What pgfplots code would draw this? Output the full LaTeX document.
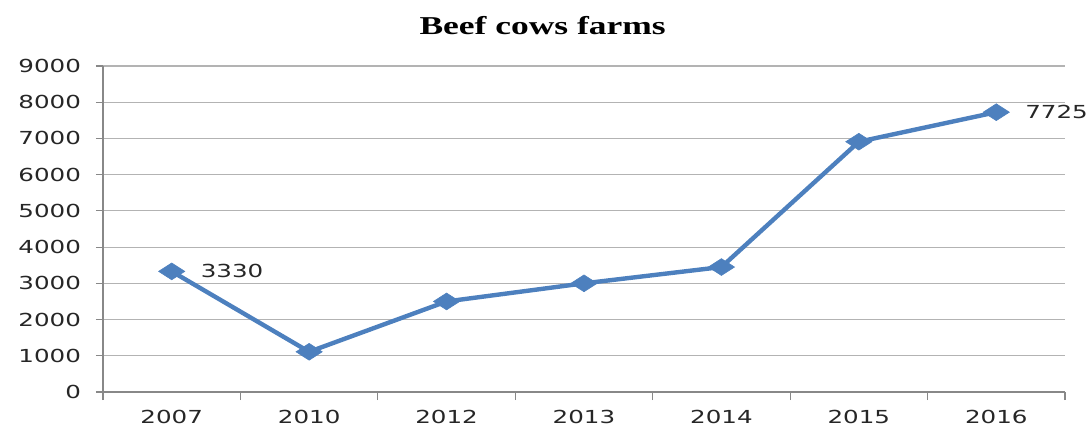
\documentclass[border=0pt]{standalone}
\usepackage{fontspec}
\usepackage{pgfplots}
\pgfplotsset{compat=1.18}
\setmainfont{DejaVu Sans}[FakeStretch=1.37]
\newfontfamily\titlefont{Liberation Serif}[FakeStretch=1.38]
\definecolor{exblue}{HTML}{4D80BE}
\definecolor{gridgray}{HTML}{B3B3B3}
\definecolor{axgray}{HTML}{888888}
\begin{document}
\begin{tikzpicture}
\path[use as bounding box] (-51.5bp,-18.5bp) rectangle (494bp,196bp);
\begin{axis}[
  at={(0,0)}, anchor=south west,
  scale only axis,
  width=481bp, height=163bp,
  xmin=-0.5, xmax=6.5,
  ymin=0, ymax=9000,
  xtick={0,...,6},
  xticklabels={2007,2010,2012,2013,2014,2015,2016},
  minor xtick={-0.5,0.5,...,6.5},
  ytick={0,1000,...,9000},
  axis x line*=bottom, axis y line*=left,
  axis line style={axgray, line width=0.6bp, -},
  tick align=outside,
  major tick length=3.5bp,
  minor tick length=4bp,
  tick style={axgray, line width=0.6bp},
  x tick style={draw=none},
  minor x tick style={axgray, line width=0.6bp, draw=axgray},
  ymajorgrids,
  major grid style={gridgray, line width=0.6bp},
  /pgf/number format/assume math mode=true,
  /pgf/number format/1000 sep={},
  tick label style={font=\fontsize{9}{10}\selectfont, text=black!85},
  yticklabel style={xshift=-4bp},
  xticklabel style={yshift=-2bp},
  title={\titlefont\bfseries\fontsize{12.9}{14}\selectfont Beef cows farms},
  title style={at={(axis description cs:0.457,1)}, anchor=base, yshift=10bp},
  clip=false,
]
\addplot[exblue, line width=2.2bp, mark=diamond*, mark size=4.2bp,
  mark options={xscale=2.08, fill=exblue, draw=exblue, line width=0.3bp}]
  coordinates {(0,3330) (1,1110) (2,2500) (3,3000) (4,3450) (5,6910) (6,7725)};
\addplot[draw=none, mark=none, nodes near coords,
  nodes near coords style={anchor=west, xshift=11bp, font=\fontsize{9}{10}\selectfont, text=black!85}]
  coordinates {(0,3330) (6,7725)};
\end{axis}
\end{tikzpicture}
\end{document}
